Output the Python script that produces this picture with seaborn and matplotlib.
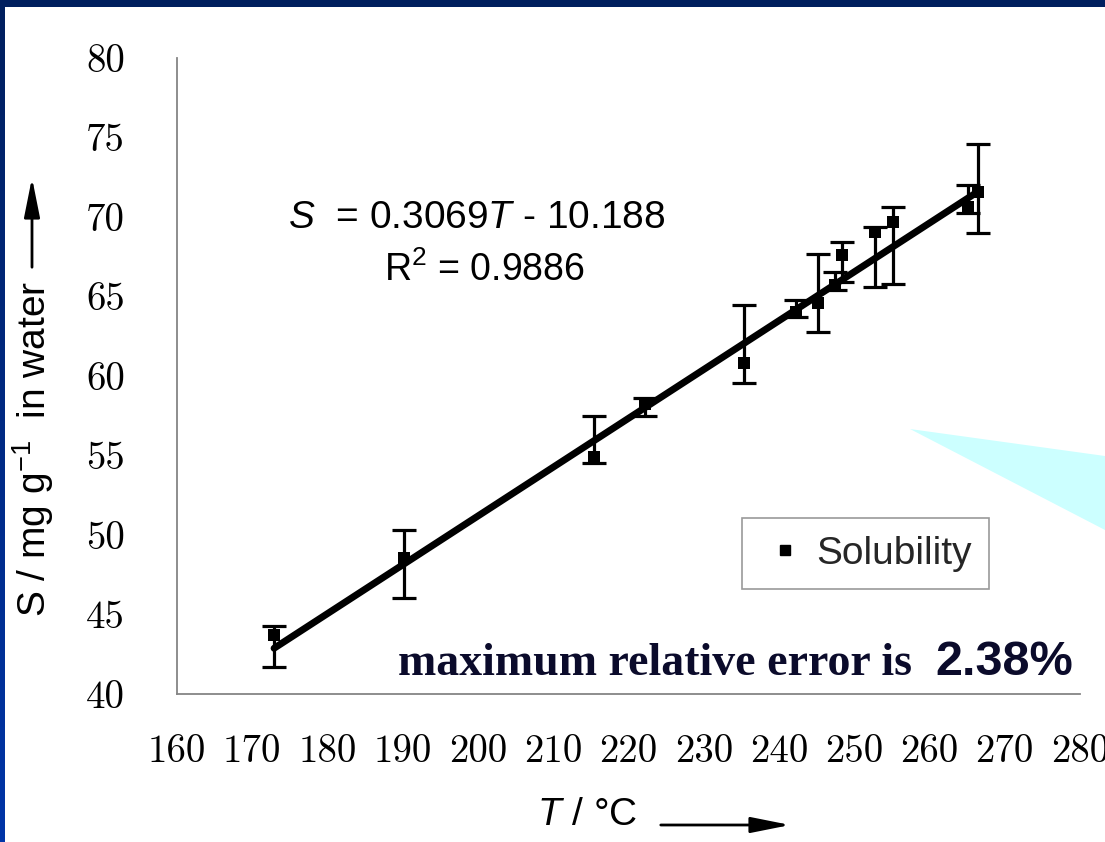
import numpy as np
import pandas as pd
import matplotlib
matplotlib.use("Agg")
import matplotlib.pyplot as plt
import seaborn as sns
from matplotlib.patches import Rectangle, Polygon, FancyArrowPatch
from matplotlib.lines import Line2D
from matplotlib.colors import LinearSegmentedColormap

# ---------------- data ----------------
T = [172.9, 190.1, 215.4, 222.2, 235.3, 242.3, 245.2, 247.4, 248.4, 252.7, 255.1, 265.1, 266.5]
S = [43.68, 48.53, 54.92, 58.23, 60.78, 64.03, 64.55, 65.71, 67.59, 69.02, 69.68, 70.59, 71.57]
err_low = [41.68, 46.01, 54.50, 57.49, 59.53, 63.68, 62.77, 65.39, 65.91, 65.60, 65.77, 70.21, 68.99]
err_high = [44.29, 50.31, 57.47, 58.59, 64.45, 64.76, 67.64, 66.51, 68.39, 69.35, 70.59, 71.99, 74.57]
slope = 0.3069
intercept = -10.188
r_squared = 0.9886
x_ticks = [160, 170, 180, 190, 200, 210, 220, 230, 240, 250, 260, 270, 280]
y_ticks = [40, 45, 50, 55, 60, 65, 70, 75, 80]

W, H = 1105, 842
sns.set_theme(style="white")
plt.rcParams["font.family"] = ["Liberation Sans", "DejaVu Sans"]
plt.rcParams["mathtext.fontset"] = "custom"
plt.rcParams["mathtext.rm"] = "Liberation Sans"
plt.rcParams["mathtext.it"] = "Liberation Sans:italic"
plt.rcParams["mathtext.bf"] = "Liberation Sans:bold"

fig = plt.figure(figsize=(W / 100, H / 100), dpi=100)

# background frame (gradient) + white slide area
bg = fig.add_axes([0, 0, 1, 1], zorder=-10)
grad = np.linspace(0, 1, 256).reshape(-1, 1)
cmap = LinearSegmentedColormap.from_list("frame", ["#001f5e", "#0035a8"])
bg.imshow(grad, aspect="auto", cmap=cmap, extent=[0, 1, 0, 1])
bg.set_axis_off()
bg.add_patch(Rectangle((5 / W, 0), 1, (H - 7) / H, transform=bg.transAxes,
                       facecolor="white", edgecolor="none", zorder=2))
# cyan callout triangle
bg.add_patch(Polygon([(910 / W, 1 - 429 / H), (1.0, 1 - 456 / H), (1.0, 1 - 530 / H)],
                     closed=True, transform=bg.transAxes, facecolor="#ccffff",
                     edgecolor="none", zorder=3))

ax = fig.add_axes([177 / W, 1 - 694 / H, (1080 - 177) / W, (694 - 57.7) / H])
ax.set_facecolor("none")
ax.set_xlim(160, 280)
ax.set_ylim(40, 80)

df = pd.DataFrame({"T": T, "S": S})
tline = [min(T), max(T)]
line_df = pd.DataFrame({"T": tline, "S": [slope * t + intercept for t in tline]})

sns.lineplot(data=line_df, x="T", y="S", ax=ax, color="black", lw=5, zorder=3)
yerr = np.array([np.array(S) - np.array(err_low), np.array(err_high) - np.array(S)])
ax.errorbar(T, S, yerr=yerr, fmt="none", ecolor="black", elinewidth=2.3,
            capsize=8.3, capthick=2.3, zorder=4)
sns.scatterplot(data=df, x="T", y="S", ax=ax, marker="s", s=75, color="black",
                edgecolor="black", linewidth=0, zorder=5, legend=False)

ax.set_xlabel("")
ax.set_ylabel("")
for side in ["top", "right"]:
    ax.spines[side].set_visible(False)
for side in ["left", "bottom"]:
    ax.spines[side].set_color("#858585")
    ax.spines[side].set_linewidth(1.3)
ax.set_xticks(x_ticks, [str(v) for v in x_ticks], fontfamily="cmr10", fontsize=28)
ax.set_yticks(y_ticks, [str(v) for v in y_ticks], fontfamily="cmr10", fontsize=28)
ax.tick_params(axis="both", direction="out", length=8.6, width=1.3, color="#858585",
               labelcolor="black")
ax.tick_params(axis="x", pad=20)
ax.tick_params(axis="y", pad=29)

# legend
handle = Line2D([], [], marker="s", linestyle="none", color="black", markersize=7)
leg = ax.legend([handle], ["Solubility"], loc="upper left",
                bbox_to_anchor=(742 / W, 1 - 518 / H), bbox_transform=fig.transFigure,
                fontsize=28, frameon=True, fancybox=False, borderpad=0.45,
                borderaxespad=0, handlelength=1.3, handletextpad=0.15)
leg.get_frame().set_edgecolor("#808080")
leg.get_frame().set_linewidth(1.2)

# equation texts
fig.text(477 / W, 1 - 218 / H, r"$S$  = 0.3069$T$ - 10.188", ha="center", va="center",
         fontsize=28, color="black")
fig.text(484 / W, 1 - 270 / H, r"R$^2$ = " + f"{r_squared:.4f}", ha="center", va="center",
         fontsize=27, color="black")

# error annotation
fig.text(923 / W, 1 - 675 / H, "maximum relative error is ", ha="right", va="baseline",
         fontsize=33, fontweight="bold", family="Liberation Serif", color="#0b0b2b")
fig.text(935 / W, 1 - 675 / H, "2.38%", ha="left", va="baseline",
         fontsize=35, fontweight="bold", family="Liberation Sans", color="#0b0b2b")

# axis labels with arrows
arrow_style = "-|>,head_length=1.5,head_width=0.3"
fig.text(587 / W, 1 - 815 / H, r"$T$ / °C", ha="center", va="center", fontsize=28,
         color="black")
fig.patches.append(FancyArrowPatch(
    (658 / W, 1 - 825 / H), (793 / W, 1 - 825 / H), transform=fig.transFigure,
    arrowstyle=arrow_style, mutation_scale=16, lw=2.0, color="black"))
fig.text(33 / W, 1 - 449 / H, r"S / mg g$^{-1}$  in water", ha="center", va="center",
         rotation=90, fontsize=28, color="black")
fig.patches.append(FancyArrowPatch(
    (32 / W, 1 - 270 / H), (32 / W, 1 - 175 / H), transform=fig.transFigure,
    arrowstyle=arrow_style, mutation_scale=16, lw=2.0, color="black"))

fig.savefig("out.png", dpi=100)
